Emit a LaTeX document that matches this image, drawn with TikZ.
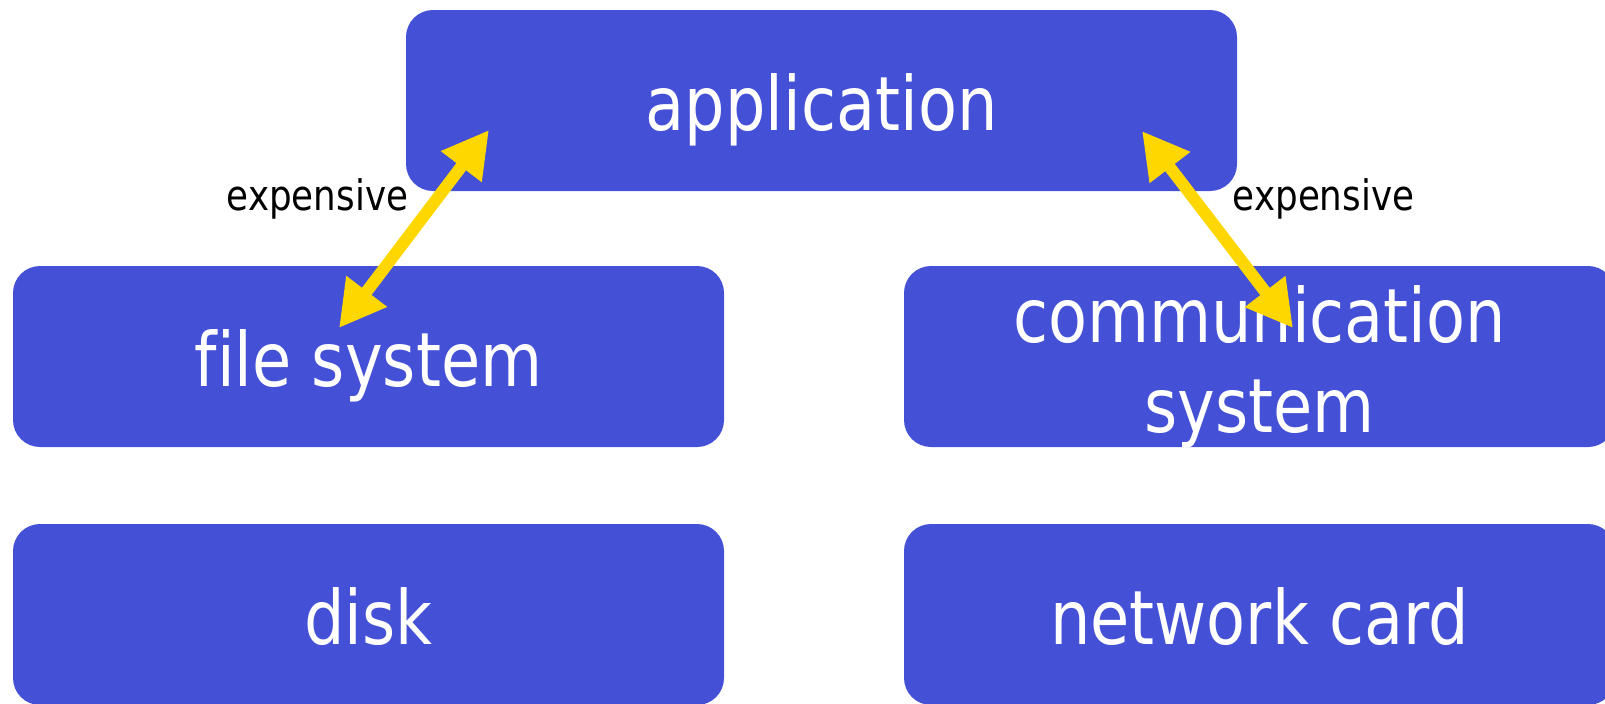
\documentclass[tikz,border=0pt]{standalone}
\usepackage{fontspec}
\setmainfont{DejaVu Sans}[FakeStretch=0.85, Ligatures=NoCommon]
\definecolor{boxblue}{RGB}{68, 80, 214}
\definecolor{arrowgold}{RGB}{255, 215, 0}
\usetikzlibrary{arrows.meta, positioning}

\begin{document}
\begin{tikzpicture}[x=0.5pt, y=-0.5pt,
  layer/.style={fill=boxblue, rounded corners=13.5pt, inner sep=0pt, minimum height=90.5pt, minimum width=355.5pt, text=white, font=\fontsize{37.5pt}{45pt}\selectfont, align=center, text height=30pt, text depth=0pt},
  cost/.style={{Triangle[length=23pt, width=24pt]}-{Triangle[length=23pt, width=24pt]}, draw=arrowgold, line width=6pt},
  costlabel/.style={font=\fontsize{21pt}{25pt}\selectfont, anchor=base}]
  \useasboundingbox (0,0) rectangle (1605,703);

  % Layers
  \node[layer, minimum width=415.5pt] (app) at (821.5, 100.5) {application};
  \node[layer] (fs) at (368.5, 356.5) {file system};
  \node[layer, text height=75.5pt, text depth=0pt] (comm) at (1259.5, 356.5) {communication\\system};
  \node[layer] (disk) at (368.5, 614.5) {disk};
  \node[layer] (net) at (1259.5, 614.5) {network card};

  % Crossings
  \coordinate (fsTip) at (339, 328);
  \coordinate (appTipL) at (489, 130);
  \coordinate (appTipR) at (1142, 131);
  \coordinate (commTip) at (1293, 328);
  \draw[cost] (fsTip) -- (appTipL);
  \draw[cost] (appTipR) -- (commTip);

  \node[costlabel] (costL) at (317.5, 210) {expensive};
  \node[costlabel] (costR) at (1323.5, 210) {expensive};
\end{tikzpicture}
\end{document}
